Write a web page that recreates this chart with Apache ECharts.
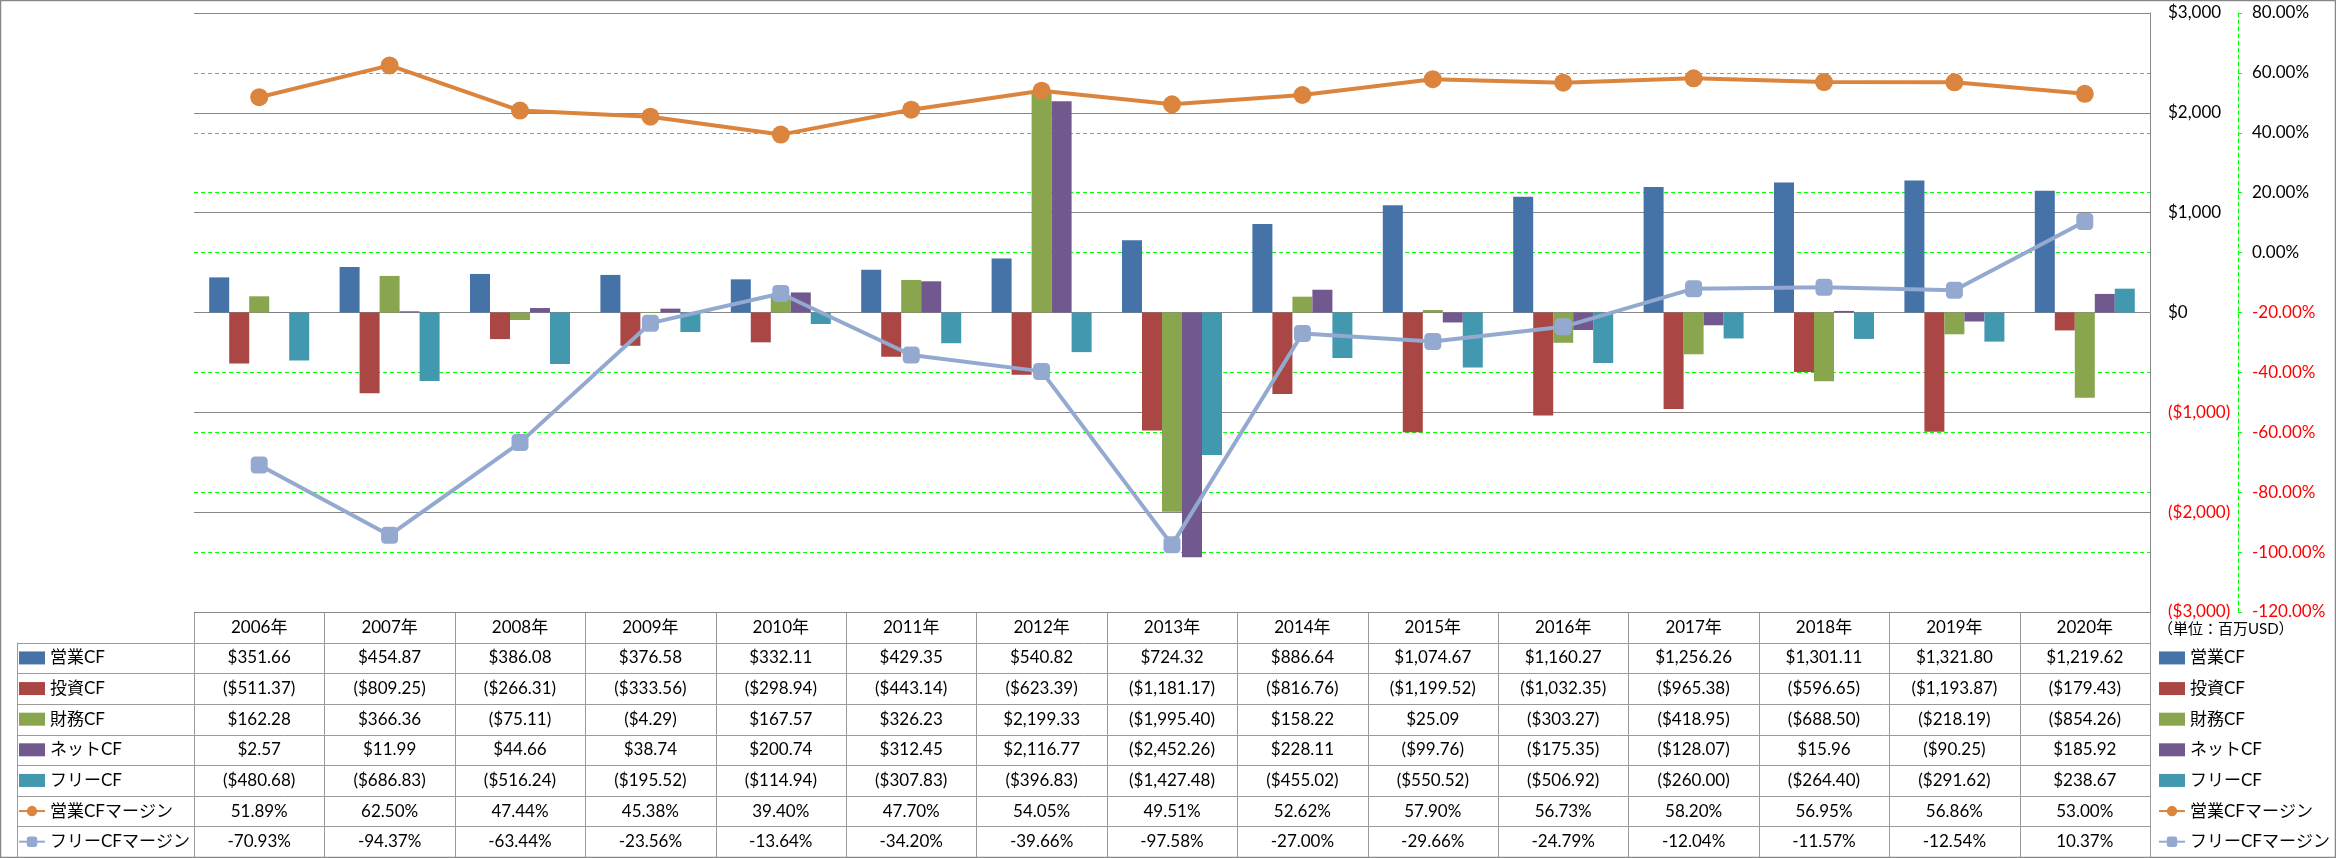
<!DOCTYPE html>
<html>
<head>
<meta charset="utf-8">
<script src="https://cdn.jsdelivr.net/npm/echarts@6/dist/echarts.min.js"></script>
<style>
  html, body { margin: 0; padding: 0; background: #fff; }
  #main { width: 2336px; height: 858px; }
</style>
</head>
<body>
<div id="main"></div>
<script>
  // 年度
  const years = ['2006年', '2007年', '2008年', '2009年', '2010年', '2011年', '2012年', '2013年',
    '2014年', '2015年', '2016年', '2017年', '2018年', '2019年', '2020年'];
  // キャッシュフロー（百万USD）
  const eigyoCF = [351.66, 454.87, 386.08, 376.58, 332.11, 429.35, 540.82, 724.32, 886.64, 1074.67, 1160.27, 1256.26, 1301.11, 1321.80, 1219.62];
  const toshiCF = [-511.37, -809.25, -266.31, -333.56, -298.94, -443.14, -623.39, -1181.17, -816.76, -1199.52, -1032.35, -965.38, -596.65, -1193.87, -179.43];
  const zaimuCF = [162.28, 366.36, -75.11, -4.29, 167.57, 326.23, 2199.33, -1995.40, 158.22, 25.09, -303.27, -418.95, -688.50, -218.19, -854.26];
  const netCF = [2.57, 11.99, 44.66, 38.74, 200.74, 312.45, 2116.77, -2452.26, 228.11, -99.76, -175.35, -128.07, 15.96, -90.25, 185.92];
  const freeCF = [-480.68, -686.83, -516.24, -195.52, -114.94, -307.83, -396.83, -1427.48, -455.02, -550.52, -506.92, -260.00, -264.40, -291.62, 238.67];
  // マージン（%）
  const eigyoMargin = [51.89, 62.50, 47.44, 45.38, 39.40, 47.70, 54.05, 49.51, 52.62, 57.90, 56.73, 58.20, 56.95, 56.86, 53.00];
  const freeMargin = [-70.93, -94.37, -63.44, -23.56, -13.64, -34.20, -39.66, -97.58, -27.00, -29.66, -24.79, -12.04, -11.57, -12.54, 10.37];

  const FONT = 'Lato, "Noto Sans CJK JP", sans-serif';
  const GRAY = '#878787';
  const GREEN = '#00FF00';
  const colors = ['#4572A7', '#AA4643', '#89A54E', '#71588F', '#4198AF', '#DB843D', '#93A9CF'];

  function money(v, dec) {
    const s = '$' + Math.abs(v).toLocaleString('en-US', {minimumFractionDigits: dec, maximumFractionDigits: dec});
    return v < 0 ? '(' + s + ')' : s;
  }
  function pct(v) {
    return v.toFixed(2) + '%';
  }

  const rows = [
    {name: '営業CF', data: eigyoCF, fmt: v => money(v, 2)},
    {name: '投資CF', data: toshiCF, fmt: v => money(v, 2)},
    {name: '財務CF', data: zaimuCF, fmt: v => money(v, 2)},
    {name: 'ネットCF', data: netCF, fmt: v => money(v, 2)},
    {name: 'フリーCF', data: freeCF, fmt: v => money(v, 2)},
    {name: '営業CFマージン', data: eigyoMargin, fmt: pct},
    {name: 'フリーCFマージン', data: freeMargin, fmt: pct}
  ];

  // 表の行の高さ（グリッド下端 612px から画像下端まで 8 行）
  const ROW_H = (857 - 612) / 8;

  const legendData = rows.map((r, i) => i < 5 ? {name: r.name, icon: 'rect'} : {name: r.name});
  const legendBase = {
    orient: 'vertical',
    selectedMode: false,
    padding: 0,
    top: 612 + ROW_H * 1.5 - 8.5,
    height: 240,
    itemWidth: 26,
    itemHeight: 13,
    itemGap: ROW_H - 17,
    textStyle: {fontSize: 17, lineHeight: 17, color: '#000', fontFamily: FONT},
    data: legendData
  };

  const barSeries = rows.slice(0, 5).map((r, i) => ({
    name: r.name,
    type: 'bar',
    data: r.data,
    barWidth: 20,
    barGap: '0%',
    itemStyle: {color: colors[i]},
    z: 2
  }));

  let myChart = echarts.init(document.getElementById('main'));
  let option = {
    animation: false,
    color: colors,
    grid: {left: 194, right: 186, top: 13, bottom: 246},
    legend: [
      Object.assign({left: 18}, legendBase),
      Object.assign({left: 2158}, legendBase)
    ],
    xAxis: {
      type: 'category',
      data: years,
      axisLine: {show: false},
      axisTick: {show: false},
      axisLabel: {show: false}
    },
    yAxis: [
      {
        type: 'value',
        position: 'right',
        min: -3000,
        max: 3000,
        interval: 1000,
        z: 1,
        axisLine: {show: true, lineStyle: {color: GRAY, width: 1}},
        axisTick: {show: false},
        splitLine: {lineStyle: {color: GRAY, width: 1}},
        axisLabel: {
          margin: 18,
          fontSize: 17,
          color: '#000',
          fontFamily: FONT,
          formatter: v => v < 0 ? '{r|' + money(v, 0) + '}' : money(v, 0),
          rich: {r: {color: '#FF0000', fontSize: 17, fontFamily: FONT}}
        }
      },
      {
        type: 'value',
        position: 'right',
        offset: 88,
        min: -120,
        max: 80,
        interval: 20,
        z: 0,
        axisLine: {show: true, lineStyle: {color: GREEN, width: 1, type: [4, 3]}},
        axisTick: {show: true, length: 4, lineStyle: {color: GREEN}},
        splitLine: {show: true, lineStyle: {color: GREEN, width: 1, type: [4, 3]}},
        axisLabel: {
          margin: 14,
          fontSize: 17,
          color: '#000',
          fontFamily: FONT,
          formatter: v => v < 0 ? '{r|' + pct(v) + '}' : pct(v),
          rich: {r: {color: '#FF0000', fontSize: 17, fontFamily: FONT}}
        }
      }
    ],
    series: barSeries.concat([
      {
        name: '営業CFマージン',
        type: 'line',
        yAxisIndex: 1,
        data: eigyoMargin,
        symbol: 'circle',
        symbolSize: 18,
        lineStyle: {color: colors[5], width: 4},
        itemStyle: {color: colors[5]},
        z: 5
      },
      {
        name: 'フリーCFマージン',
        type: 'line',
        yAxisIndex: 1,
        data: freeMargin,
        symbol: 'roundRect',
        symbolSize: 17,
        lineStyle: {color: colors[6], width: 4},
        itemStyle: {color: colors[6]},
        z: 5
      }
    ])
  };
  myChart.setOption(option);

  // データテーブル（軸の座標から位置を取る）
  const cx = years.map((y, i) => myChart.convertToPixel({xAxisIndex: 0}, i));
  const colW = cx[1] - cx[0];
  const tLeft = Math.round(cx[0] - colW / 2);
  const tRight = Math.round(cx[cx.length - 1] + colW / 2);
  const tTop = Math.round(myChart.convertToPixel({yAxisIndex: 0}, -3000));
  const tBottom = 857;
  const rowH = (tBottom - tTop) / (rows.length + 1);
  const labelLeft = 17;
  const lineCol = '#9A9A9A';

  let g = [];
  function hline(x1, x2, y) {
    y = Math.round(y) + 0.5;
    g.push({type: 'line', shape: {x1: x1, y1: y, x2: x2, y2: y}, style: {stroke: lineCol, lineWidth: 1}, silent: true});
  }
  function vline(x, y1, y2) {
    x = Math.round(x) + 0.5;
    g.push({type: 'line', shape: {x1: x, y1: y1, x2: x, y2: y2}, style: {stroke: lineCol, lineWidth: 1}, silent: true});
  }
  function text(t, x, y, align, size) {
    g.push({type: 'text', x: x, y: y, silent: true,
      style: {text: t, fill: '#000', font: (size || 17) + 'px ' + FONT, textAlign: align, textVerticalAlign: 'middle'}});
  }

  hline(tLeft, tRight, tTop);
  for (let r = 1; r <= rows.length; r++) hline(labelLeft, tRight, tTop + r * rowH);
  vline(labelLeft, tTop + rowH, tBottom);
  for (let i = 0; i <= years.length; i++) vline(tLeft + i * colW, tTop, tBottom);

  years.forEach((y, i) => text(y, cx[i], tTop + rowH / 2, 'center'));
  rows.forEach((r, ri) => {
    r.data.forEach((v, i) => text(r.fmt(v), cx[i], tTop + (ri + 1.5) * rowH, 'center'));
  });
  text('（単位：百万USD）', 2158, tTop + rowH / 2 + 2, 'left', 15);

  g.push({type: 'rect', shape: {x: 0.5, y: 0.5, width: 2335, height: 857},
    style: {fill: 'none', stroke: GRAY, lineWidth: 1.5}, silent: true});

  myChart.setOption({graphic: {elements: g}});
</script>
</body>
</html>
